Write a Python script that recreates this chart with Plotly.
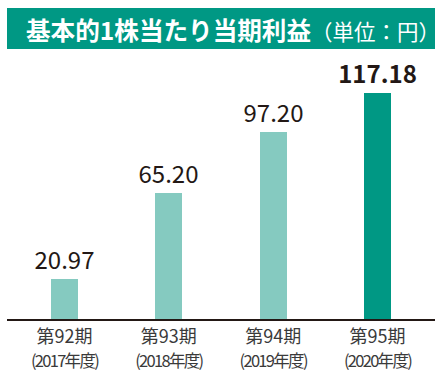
import plotly.graph_objects as go

periods = ["第92期", "第93期", "第94期", "第95期"]
years = ["(2017年度)", "(2018年度)", "(2019年度)", "(2020年度)"]
values = [20.97, 65.20, 97.20, 117.18]
value_labels = ["20.97", "65.20", "97.20", "<b>117.18</b>"]
bar_colors = ["#85CAC0", "#85CAC0", "#85CAC0", "#009884"]

FONT = "Noto Sans CJK JP"
W, H = 441, 374
ML, MR, MT, MB = 7, 6, 60, 55

x = list(range(len(values)))
ticktext = [f"<span style='font-size:18px'>{p}</span><br>"
            f"<span style='font-size:16.5px;letter-spacing:-1.7px'>{y}</span>"
            for p, y in zip(periods, years)]

fig = go.Figure()
fig.add_trace(go.Bar(
    x=x, y=values, width=0.259,
    marker=dict(color=bar_colors, line=dict(width=0)),
    text=value_labels, textposition="outside", cliponaxis=False,
    constraintext="none",
    textfont=dict(family=FONT, size=24, color="#231815"),
    hoverinfo="skip",
))

fig.update_layout(
    width=W, height=H,
    margin=dict(l=ML, r=MR, t=MT, b=MB, pad=0, autoexpand=False),
    paper_bgcolor="white", plot_bgcolor="white",
    showlegend=False,
    bargap=0,
    font=dict(family=FONT, color="#3a3a3a"),
    xaxis=dict(
        range=[-0.551, 3.551], tickmode="array", tickvals=x, ticktext=ticktext,
        showline=True, linecolor="#231815", linewidth=2, ticks="",
        showgrid=False, zeroline=False, fixedrange=True, automargin=False,
        tickfont=dict(family=FONT, size=18.5, color="#3a3a3a"),
    ),
    yaxis=dict(range=[0, 134.29], visible=False, showgrid=False, zeroline=False,
               automargin=False),
    shapes=[dict(type="rect", xref="paper", yref="paper",
                 x0=0, x1=1, y0=1.0425, y1=1.2008,
                 fillcolor="#009884", line=dict(width=0), layer="below")],
    annotations=[dict(
        xref="paper", yref="paper", x=0.040, y=1.1216,
        xanchor="left", yanchor="middle", showarrow=False,
        text="<b>基本的1株当たり当期利益</b><span style='font-size:21.5px'>（単位：円）</span>",
        font=dict(family=FONT, size=24.6, color="white"),
    )],
)

fig.write_html("out.html", config={"displayModeBar": False},
               post_script="document.body.style.margin='0';")
